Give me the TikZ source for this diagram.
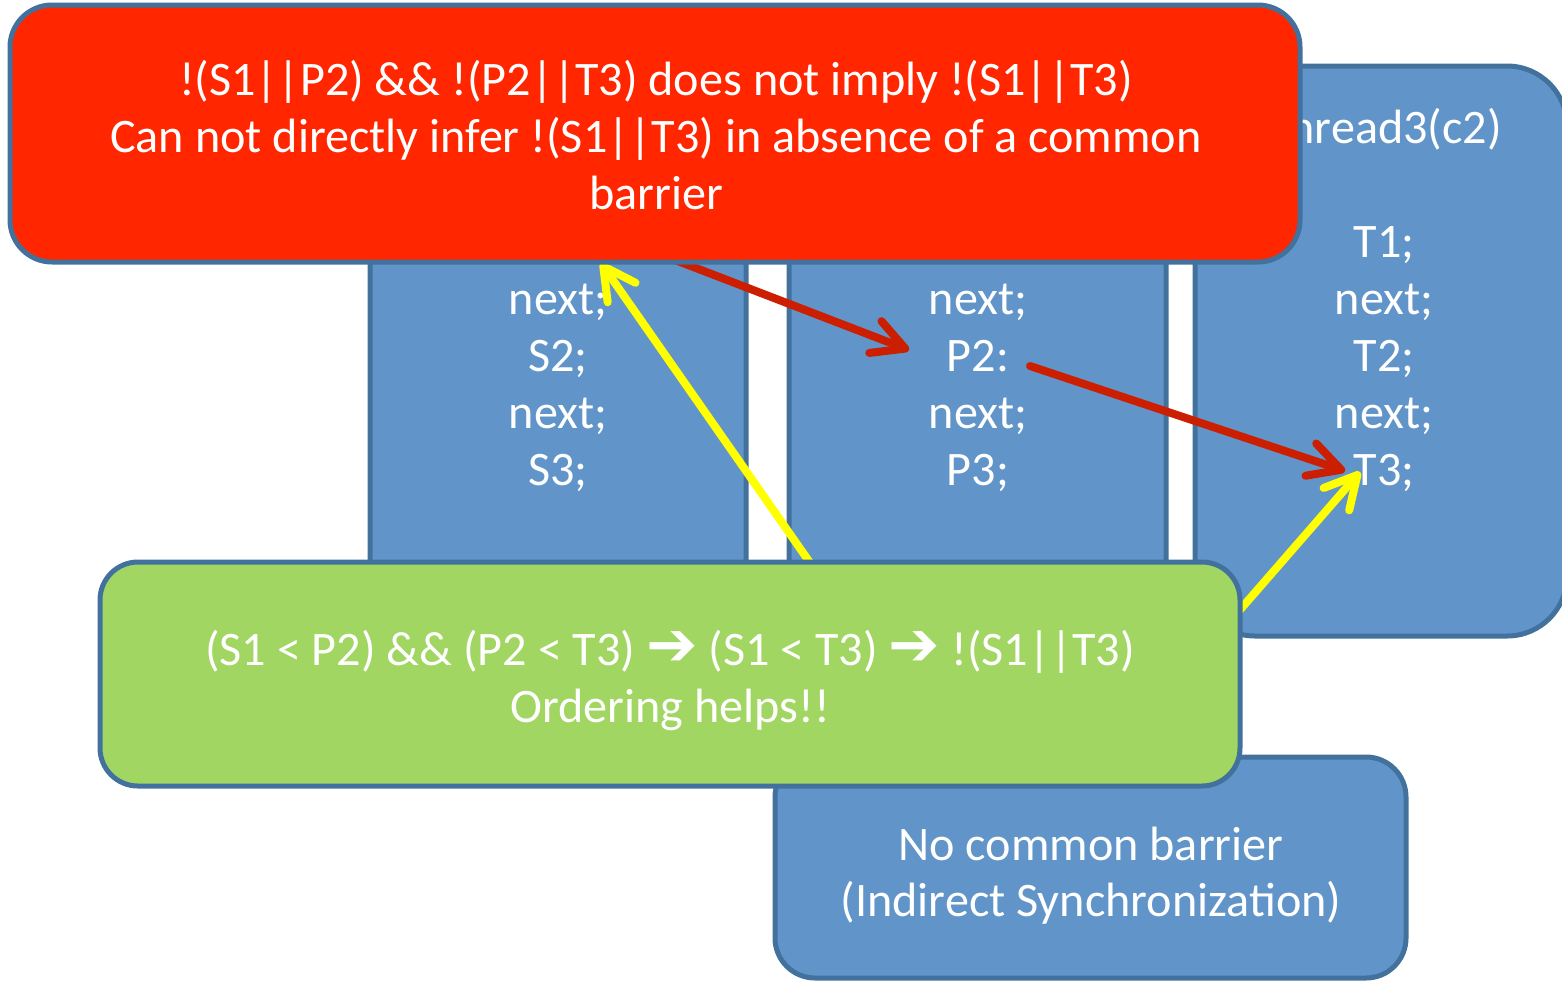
\documentclass[tikz,border=0pt]{standalone}
\usepackage{fontspec}
\setmainfont{Carlito}
\newfontfamily\arrowfont{DejaVu Sans}
\usetikzlibrary{arrows.meta}

\definecolor{boxblue}{RGB}{97,149,201}
\definecolor{boxline}{RGB}{66,113,157}
\definecolor{warnred}{RGB}{255,38,0}
\definecolor{okgreen}{RGB}{161,214,99}
\definecolor{linkred}{RGB}{204,30,0}
\definecolor{linkyellow}{RGB}{255,255,0}

\newcommand{\implarrow}{{\arrowfont\fontsize{17.5}{16.2}\selectfont ➔}}

\tikzset{
	box/.style={draw=boxline, line width=0.05cm},
	code/.style={text=white, anchor=base, inner sep=0pt, font=\fontsize{13.7}{16.2}\selectfont},
	link/.style={line width=0.08cm, line cap=round, -{Straight Barb[round,length=3.2mm,width=3.4mm]}},
}

\begin{document}
\begin{tikzpicture}
	\useasboundingbox (0,0) rectangle (15.62,-9.81);
	\clip (0,0) rectangle (15.62,-9.81);

	%thread columns
	\filldraw[box,fill=boxblue,rounded corners=0.6cm] (3.70,-0.66) rectangle (7.46,-6.36);
	\filldraw[box,fill=boxblue,rounded corners=0.6cm] (7.89,-0.66) rectangle (11.66,-6.36);
	\filldraw[box,fill=boxblue,rounded corners=0.6cm] (11.95,-0.66) rectangle (15.67,-6.36);
	%barrier box
	\filldraw[box,fill=boxblue,rounded corners=0.4cm] (7.75,-7.57) rectangle (14.06,-9.78);

	%column labels
	\node[code] (s1next) at (5.58,-3.14) {next;};
	\node[code] (s2)     at (5.58,-3.71) {S2;};
	\node[code] (s2next) at (5.58,-4.28) {next;};
	\node[code] (s3)     at (5.58,-4.85) {S3;};
	%
	\node[code] (p1next) at (9.78,-3.14) {next;};
	\node[code] (p2)     at (9.78,-3.71) {P2:};
	\node[code] (p2next) at (9.78,-4.28) {next;};
	\node[code] (p3)     at (9.78,-4.85) {P3;};
	%
	\node[code] (thread3) at (13.84,-1.43) {Thread3(c2)};
	\node[code] (t1)      at (13.84,-2.57) {T1;};
	\node[code] (t1next)  at (13.84,-3.14) {next;};
	\node[code] (t2)      at (13.84,-3.71) {T2;};
	\node[code] (t2next)  at (13.84,-4.28) {next;};
	\node[code] (t3)      at (13.84,-4.85) {T3;};

	%arrow ends
	\coordinate (s1)   at (5.66,-2.18);
	\coordinate (s1in) at (6.01,-2.63);
	\coordinate (p2in) at (9.09,-3.50);
	\coordinate (p2out) at (10.30,-3.66);
	\coordinate (t3red) at (13.45,-4.71);
	\coordinate (t3yel) at (13.60,-4.72);
	\coordinate (okleft)  at (8.29,-5.90);
	\coordinate (okright) at (12.25,-6.27);

	%arrows
	\draw[link,linkred] (s1) -- (p2in);
	\draw[link,linkred] (p2out) -- (t3red);
	\draw[link,linkyellow] (okleft) -- (s1in);
	\draw[link,linkyellow] (okright) -- (t3yel);

	%notes
	\filldraw[box,fill=warnred,rounded corners=0.42cm] (0.10,-0.05) rectangle (13.00,-2.62);
	\filldraw[box,fill=okgreen,rounded corners=0.38cm] (1.00,-5.62) rectangle (12.40,-7.86);

	%note texts
	\node[code] (warn1) at (6.56,-0.95) {!(S1||P2) \&\& !(P2||T3) does not imply !(S1||T3)};
	\node[code] (warn2) at (6.56,-1.52) {Can not directly infer !(S1||T3) in absence of a common};
	\node[code] (warn3) at (6.56,-2.09) {barrier};
	%
	\node[code] (ok1) at (6.70,-6.65) {(S1 < P2) \&\& (P2 < T3) \implarrow{} (S1 < T3) \implarrow{} !(S1||T3)};
	\node[code] (ok2) at (6.70,-7.22) {Ordering helps!!};
	%
	\node[code] (barrier1) at (10.91,-8.60) {No common barrier};
	\node[code] (barrier2) at (10.91,-9.16) {(Indirect Synchronization)};
\end{tikzpicture}
\end{document}
